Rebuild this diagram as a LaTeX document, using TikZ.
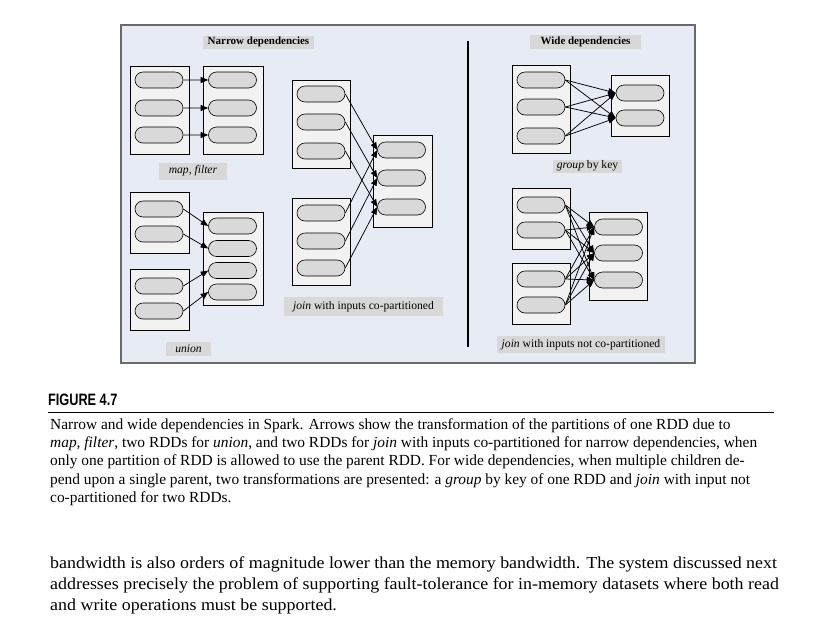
\documentclass[tikz,border=0pt]{standalone}
\usepackage{fontspec}
\setmainfont{Liberation Serif}
\newfontfamily\figfont{Liberation Sans}
\usetikzlibrary{arrows.meta,shapes.misc}
\definecolor{framefill}{HTML}{E7EBF4}
\definecolor{framedraw}{HTML}{6A6A6A}
\definecolor{boxfill}{HTML}{F2F2F2}
\definecolor{pillfill}{HTML}{D9D9D9}
\definecolor{labfill}{HTML}{D8D8D8}
\tikzset{
  rddbox/.style={draw=black, line width=0.8pt, fill=boxfill, inner sep=0pt},
  pill/.style={draw=black, line width=0.6pt, fill=pillfill, rounded rectangle, minimum width=48pt, minimum height=16pt, inner sep=0pt},
  lab/.style={fill=labfill, inner sep=0pt, font=\fontsize{11.6}{13}\selectfont},
  dep/.style={line width=0.75pt, -{Triangle[length=7.5pt,width=6pt]}},
  capline/.style={anchor=base west, inner sep=0pt, font=\fontsize{15.4}{17}\selectfont},
  bodyline/.style={anchor=base west, inner sep=0pt, font=\fontsize{16.8}{19}\selectfont}
}
\begin{document}
\begin{tikzpicture}[x=1pt,y=-1pt]
\useasboundingbox (0,0) rectangle (831,622);
% frame
\node[draw=framedraw, line width=1.2pt, fill=framefill, minimum width=574pt, minimum height=338pt, inner sep=0pt] (frame) at (408,194) {};
\coordinate (divtop) at (468,41);
\coordinate (divbot) at (468,347);
\draw[line width=1.5pt] (divtop) -- (divbot);
% section labels
\node[lab, minimum width=111pt, minimum height=13pt, font=\fontsize{11}{12}\selectfont\bfseries] (lnarrow) at (258.5,42) {Narrow dependencies};
\node[lab, minimum width=111pt, minimum height=14pt, font=\fontsize{11}{12}\selectfont\bfseries] (lwide) at (585.5,42) {Wide dependencies};
\node[lab, minimum width=68pt, minimum height=17pt] (lmap) at (193,171) {\textit{map, filter}};
\node[lab, minimum width=45pt, minimum height=14pt] (lunion) at (188.5,349) {\textit{union}};
\node[lab, minimum width=159pt, minimum height=19pt] (ljoin) at (363.5,306.5) {\textit{join} with inputs co-partitioned};
\node[lab, minimum width=69pt, minimum height=13pt] (lgroup) at (587.5,166) {\textit{group} by key};
\node[lab, minimum width=168pt, minimum height=17pt] (ljoinn) at (581,344.5) {\textit{join} with inputs not co-partitioned};
% ---------- map, filter
\node[rddbox, minimum width=59pt, minimum height=88pt] (mfA) at (159.5,110) {};
\node[rddbox, minimum width=60pt, minimum height=88pt] (mfB) at (233,110) {};
\foreach \i/\y in {1/80,2/108,3/135}{
  \node[pill] (mfa\i) at (159,\y) {};
  \node[pill] (mfb\i) at (232.5,\y) {};
  \draw[dep] (mfa\i) -- (mfb\i);
}
% ---------- union
\node[rddbox, minimum width=59pt, minimum height=61pt] (uA) at (159.5,222.5) {};
\node[rddbox, minimum width=59pt, minimum height=61pt] (uB) at (159.5,299.5) {};
\node[rddbox, minimum width=60pt, minimum height=93pt] (uT) at (233,258.5) {};
\node[pill] (ua1) at (159,209) {};
\node[pill] (ua2) at (159,234) {};
\node[pill] (ub1) at (159,286) {};
\node[pill] (ub2) at (159,311) {};
\node[pill] (ut1) at (232.5,226) {};
\node[pill] (ut2) at (232.5,248.5) {};
\node[pill] (ut3) at (232.5,270.5) {};
\node[pill] (ut4) at (232.5,292) {};
\draw[dep] (ua1.east) -- (ut1.west);
\draw[dep] (ua2.east) -- (ut2.west);
\draw[dep] (ub1.east) -- (ut3.west);
\draw[dep] (ub2.east) -- (ut4.west);
% ---------- join co-partitioned
\node[rddbox, minimum width=58pt, minimum height=88pt] (jA) at (321,124) {};
\node[rddbox, minimum width=58pt, minimum height=87pt] (jB) at (321,241.5) {};
\node[rddbox, minimum width=59pt, minimum height=92pt] (jT) at (402.5,181) {};
\foreach \i/\ya/\yb/\yt in {1/94/213/150,2/122/241/178,3/151/268/207}{
  \node[pill] (ja\i) at (321,\ya) {};
  \node[pill] (jb\i) at (321,\yb) {};
  \node[pill] (jt\i) at (401.5,\yt) {};
}
\foreach \i in {1,2,3}{
  \draw[dep] (ja\i.east) -- (jt\i.west);
  \draw[dep] (jb\i.east) -- (jt\i.west);
}
% ---------- group by key
\node[rddbox, minimum width=58pt, minimum height=88pt] (gA) at (541,109) {};
\node[rddbox, minimum width=58pt, minimum height=61pt] (gT) at (640,105.5) {};
\node[pill] (ga1) at (541,80) {};
\node[pill] (ga2) at (541,107) {};
\node[pill] (ga3) at (541,136) {};
\node[pill] (gt1) at (640,93) {};
\node[pill] (gt2) at (640,118) {};
\foreach \i in {1,2,3}{
  \foreach \j in {1,2}{
    \draw[dep] (ga\i.east) -- (gt\j.west);
  }
}
% ---------- join not co-partitioned
\node[rddbox, minimum width=58pt, minimum height=61pt] (nA) at (541,218.5) {};
\node[rddbox, minimum width=58pt, minimum height=61pt] (nB) at (541,293.5) {};
\node[rddbox, minimum width=58pt, minimum height=88pt] (nT) at (618,256) {};
\node[pill] (ns1) at (541,205) {};
\node[pill] (ns2) at (541,230) {};
\node[pill] (ns3) at (541,279) {};
\node[pill] (ns4) at (541,305) {};
\node[pill] (nt1) at (618.5,227) {};
\node[pill] (nt2) at (618.5,253) {};
\node[pill] (nt3) at (618.5,280) {};
\foreach \i in {1,2,3,4}{
  \foreach \j in {1,2,3}{
    \draw[dep] (ns\i.east) -- (nt\j.west);
  }
}
% ---------- caption
\node[anchor=base west, inner sep=0pt, font=\figfont\fontsize{16.5}{18}\selectfont\bfseries] (figlab) at (48,405) {\scalebox{0.77}[1]{FIGURE 4.7}};
\coordinate (rulel) at (48,412);
\coordinate (ruler) at (774,412);
\draw[line width=1pt] (rulel) -- (ruler);
\node[capline] (c1) at (50,429) {Narrow and wide dependencies in Spark. Arrows show the transformation of the partitions of one RDD due to};
\node[capline] (c2) at (50,447) {\textit{map, filter}, two RDDs for \textit{union}, and two RDDs for \textit{join} with inputs co-partitioned for narrow dependencies, when};
\node[capline] (c3) at (50,465.5) {only one partition of RDD is allowed to use the parent RDD. For wide dependencies, when multiple children de-};
\node[capline] (c4) at (50,484) {pend upon a single parent, two transformations are presented: a \textit{group} by key of one RDD and \textit{join} with input not};
\node[capline] (c5) at (50,502) {co-partitioned for two RDDs.};
% ---------- body
\node[bodyline] (b1) at (50,568) {\scalebox{1.067}[1]{bandwidth is also orders of magnitude lower than the memory bandwidth. The system discussed next}};
\node[bodyline] (b2) at (50,589) {\scalebox{1.067}[1]{addresses precisely the problem of supporting fault-tolerance for in-memory datasets where both read}};
\node[bodyline] (b3) at (50,610) {\scalebox{1.067}[1]{and write operations must be supported.}};
\end{tikzpicture}
\end{document}
